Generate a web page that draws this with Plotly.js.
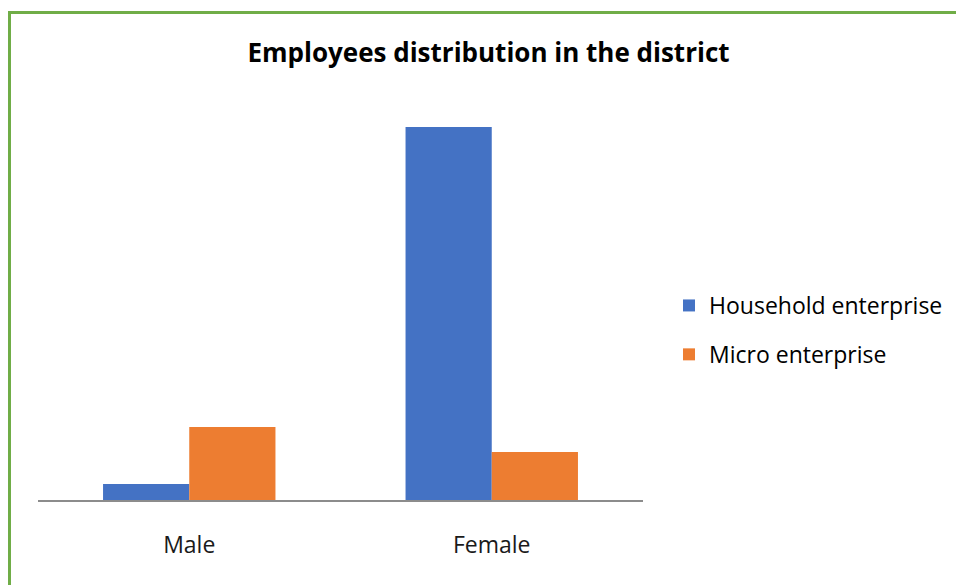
<!DOCTYPE html>
<html>
<head>
<meta charset="utf-8">
<script src="https://cdn.plot.ly/plotly-3.0.1.min.js"></script>
<style>
  html, body { margin: 0; padding: 0; background: #fff; overflow: hidden; }
  #chart { width: 956px; height: 585px; position: absolute; left: 0; top: 0; }
  #frame { position: absolute; left: 8px; top: 11px; width: 1200px; height: 1200px;
           border: 3px solid #70AD47; box-sizing: border-box; pointer-events: none; z-index: 10; }
</style>
</head>
<body>
<div id="chart"></div>
<div id="frame"></div>
<script>
const categories = ["Male", "Female"];
const seriesNames = ["Household enterprise", "Micro enterprise"];
const household = [16, 373];
const micro = [73, 48];
const colors = ["#4472C4", "#ED7D31"];

const traces = [
  { type: "bar", name: seriesNames[0], legendgroup: "a", x: categories, y: household,
    marker: { color: colors[0] } },
  { type: "bar", name: seriesNames[1], legendgroup: "b", x: categories, y: micro,
    marker: { color: colors[1] } }
];

const layout = {
  width: 956, height: 585,
  margin: { l: 38, r: 313, t: 100, b: 85, autoexpand: false },
  paper_bgcolor: "#fff", plot_bgcolor: "#fff",
  font: { family: "Open Sans, sans-serif", color: "#262626" },
  title: { text: "<b>Employees distribution in the district</b>",
           font: { size: 26, color: "#000", family: "Open Sans, sans-serif" },
           x: 0.511, xanchor: "center", y: 0.909, yanchor: "middle" },
  barmode: "group", bargap: 0.43, bargroupgap: 0,
  showlegend: true,
  legend: { x: 1.043, xanchor: "left", y: 0.425, yanchor: "middle", traceorder: "grouped",
            font: { size: 23, color: "#000" }, tracegroupgap: 16, itemwidth: 30 },
  xaxis: { showline: true, linecolor: "#8c8c8c", linewidth: 2, ticks: "",
           tickfont: { size: 23, color: "#1a1a1a" }, ticklabelstandoff: 23,
           showgrid: false, zeroline: false, fixedrange: true, automargin: false },
  yaxis: { range: [0, 400], visible: false, showgrid: false, zeroline: false, fixedrange: true, automargin: false }
};

Plotly.newPlot("chart", traces, layout, { displayModeBar: false, staticPlot: true });
</script>
</body>
</html>
